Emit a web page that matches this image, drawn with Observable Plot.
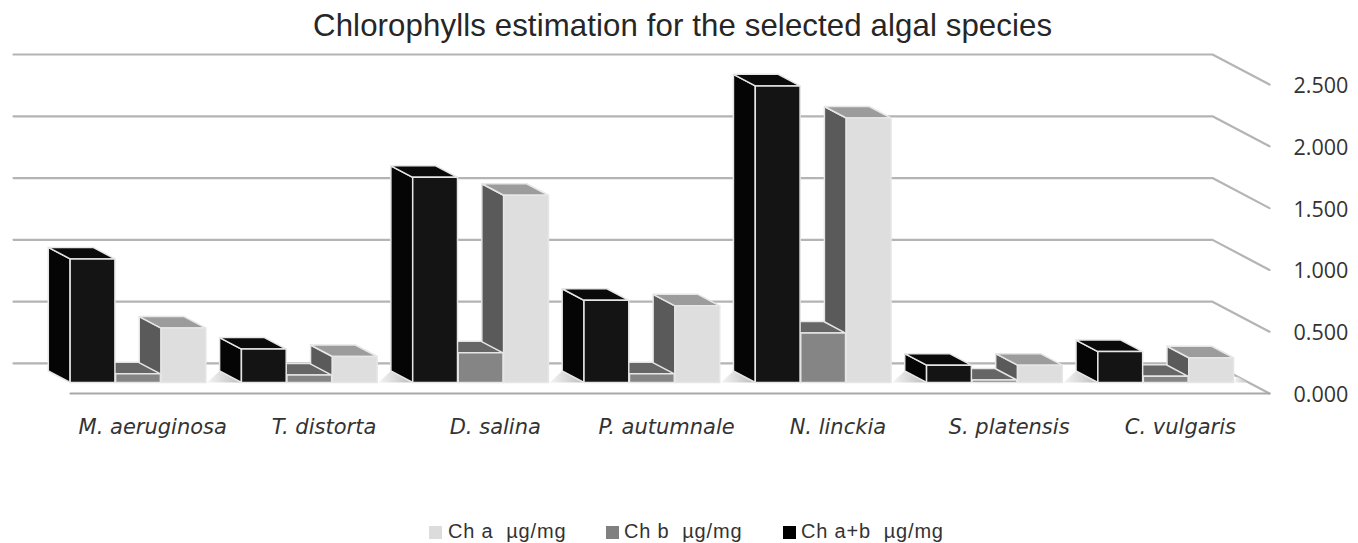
<!DOCTYPE html>
<html><head><meta charset="utf-8">
<script src="https://cdn.jsdelivr.net/npm/d3@7"></script>
<script src="https://cdn.jsdelivr.net/npm/@observablehq/plot@0.6"></script>
<style>
html,body{margin:0;padding:0;background:#fff;width:1358px;height:543px;overflow:hidden}
#title{position:absolute;left:313px;top:8px;font:31.2px/36px "Liberation Sans",sans-serif;color:#262626;white-space:nowrap;letter-spacing:.11px}
#chart{position:absolute;left:0;top:36px}
#legend span{position:absolute;top:520px;font:20px/22px "Liberation Sans",sans-serif;color:#333;white-space:nowrap;letter-spacing:.82px}
#legend i{position:absolute;top:526px;width:13px;height:13px}
</style></head><body>
<div id="title">Chlorophylls estimation for the selected algal species</div>
<div id="chart"></div>
<div id="legend">
<i style="left:429px;background:#dcdcdc"></i><span style="left:448px">Ch a &nbsp;µg/mg</span>
<i style="left:606px;background:#808080"></i><span style="left:624px">Ch b &nbsp;µg/mg</span>
<i style="left:783px;background:#000"></i><span style="left:801px">Ch a+b &nbsp;µg/mg</span>
</div>
<script>
const species = ["M. aeruginosa","T. distorta","D. salina","P. autumnale","N. linckia","S. platensis","C. vulgaris"];
const chAB = [1.00,0.27,1.66,0.665,2.40,0.14,0.25];
const chB  = [0.07,0.06,0.24,0.07,0.40,0.02,0.05];
const chA  = [0.44,0.21,1.515,0.62,2.14,0.14,0.20];
const yTicks = [0,0.5,1,1.5,2,2.5];

const series = [
  {values:chAB, slot:0, front:"#141414", side:"#050505", top:"#0a0a0a"},
  {values:chB,  slot:1, front:"#858585", side:"#5c5c5c", top:"#666666"},
  {values:chA,  slot:2, front:"#dedede", side:"#5a5a5a", top:"#9c9c9c"}
];
const drawOrder = [2,1,0]; // painted right to left, as in the reference
// oblique projection: depth 0 = back wall, depth 1 = front of the floor
const skewX = 57/171.3, skewY = 30/123.4;
const P = (u,v,d) => ({x:u+d*skewX, y:v-d*skewY});
const start = 0.12, barW = 0.2655, d1 = 0.633, d0 = 0.25;

const faces = [], shadows = [];
const poly = (list,id,fill,pts)=>pts.forEach(p=>list.push({id,fill,...P(...p)}));
species.forEach((s,i)=>{
  const u0=i+start;
  if(i>0) poly(shadows,`s${i}`,null,[[u0-0.2,0,d1],[u0,0,d1],[u0,0,d0]]);
  if(i===species.length-1) poly(shadows,"end",null,[[7,0,.43],[7,0,d1],[u0+3*barW,0,d1]]);
  drawOrder.forEach(j=>{
    const k=series[j], u=u0+k.slot*barW, v=k.values[i], r=u+barW-0.004;
    poly(faces,`${i}${j}side`,k.side,[[u,0,d1],[u,v,d1],[u,v,d0],[u,0,d0]]);
    poly(faces,`${i}${j}top`,k.top,[[u,v,d1],[r,v,d1],[r,v,d0],[u,v,d0]]);
    poly(faces,`${i}${j}front`,k.front,[[u,0,d1],[r,0,d1],[r,v,d1],[u,v,d1]]);
  });
});
const grid = yTicks.flatMap(t=>[[0,t,0],[7,t,0],[7,t,1]].map(p=>({t,...P(...p)})));
const floorFront = [[0,0,1],[7,0,1]].map(p=>P(...p));
const labelShift = 0.5-0.02+skewX;

const gradient = () => {
  const defs = d3.create("svg:defs");
  const g = defs.append("linearGradient").attr("id","shadow");
  g.append("stop").attr("offset","0%").attr("stop-color","#f4f4f4");
  g.append("stop").attr("offset","100%").attr("stop-color","#bcbcbc");
  return defs.node();
};

const plot = Plot.plot({
  width:1358,height:470,
  marginLeft:13,marginRight:89,marginTop:18,marginBottom:113,
  x:{domain:[0,7+skewX],axis:null},
  y:{domain:[-skewY,2.5],axis:null},
  color:{type:"identity"},
  style:{background:"transparent",overflow:"visible"},
  marks:[
    gradient,
    Plot.line(grid,{x:"x",y:"y",z:"t",stroke:"#b4b4b4",strokeWidth:2.2}),
    Plot.line(floorFront,{x:"x",y:"y",stroke:"#a8a8a8",strokeWidth:2.2}),
    Plot.line(shadows,{x:"x",y:"y",z:"id",fill:"url(#shadow)",stroke:"none",curve:"linear-closed"}),
    Plot.line(faces,{x:"x",y:"y",z:"id",fill:"fill",stroke:"#e6e6e6",strokeWidth:1.5,curve:"linear-closed",strokeLinejoin:"round"}),
    Plot.axisY({anchor:"right",ticks:yTicks.map(t=>t-skewY),tickFormat:d=>(d+skewY).toFixed(3),tickSize:0,tickPadding:24,fontSize:21.5,fontFamily:"Open Sans",fill:"#333",label:null,dy:1.5,style:{letterSpacing:"0.45px"}}),
    Plot.axisX({anchor:"bottom",ticks:species.map((s,i)=>i+labelShift),tickFormat:d=>species[Math.round(d-labelShift)],tickSize:0,tickPadding:26,fontSize:21,fontFamily:"DejaVu Sans",fontStyle:"italic",fill:"#333",label:null})
  ]
});
document.getElementById("chart").append(plot);
</script></body></html>
